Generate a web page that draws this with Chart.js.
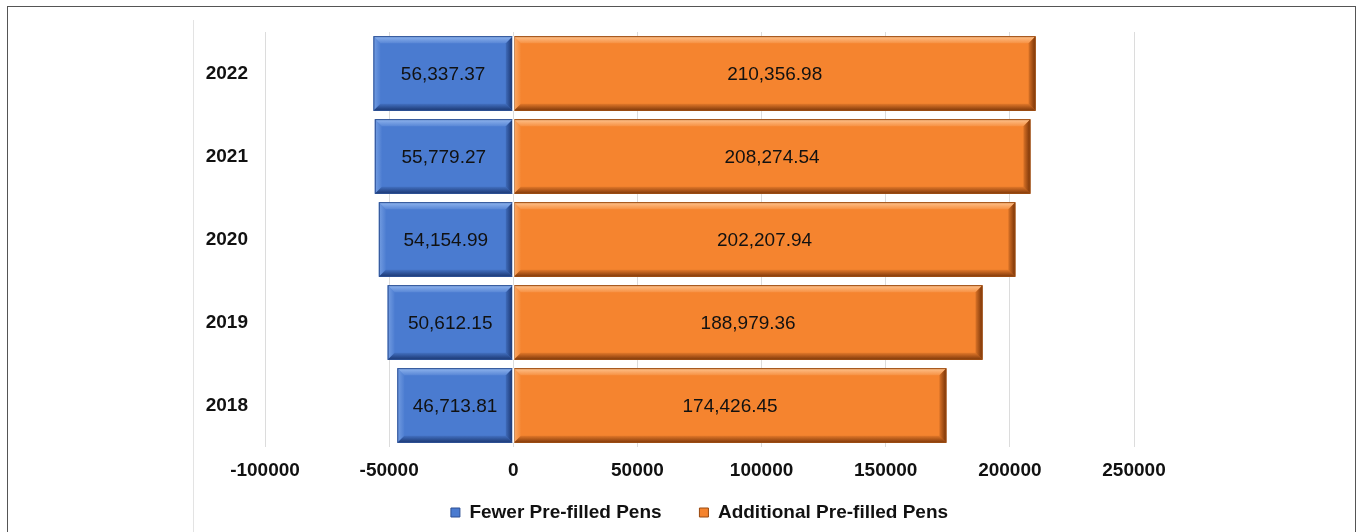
<!DOCTYPE html>
<html>
<head>
<meta charset="utf-8">
<script src="https://cdn.jsdelivr.net/npm/chart.js@4.4.0/dist/chart.umd.min.js"></script>
<style>
  html, body { margin: 0; padding: 0; background: #fff; }
  #wrap { position: relative; width: 1357px; height: 532px; overflow: hidden; }
  #frame { position: absolute; left: 7px; top: 6px; width: 1347px; height: 600px; border: 1px solid #555; }
  #inner { position: absolute; left: 193px; top: 20px; width: 0; height: 600px; border-left: 1px solid #e3e3e3; }
  canvas { position: absolute; left: 0; top: 0; }
</style>
</head>
<body>
<div id="wrap">
  <div id="frame"></div>
  <div id="inner"></div>
  <canvas id="chart" width="1357" height="532"></canvas>
</div>
<script>
var years = ['2022', '2021', '2020', '2019', '2018'];
var fewerPens = [-56337.37, -55779.27, -54154.99, -50612.15, -46713.81];
var additionalPens = [210356.98, 208274.54, 202207.94, 188979.36, 174426.45];
var xTicks = [-100000, -50000, 0, 50000, 100000, 150000, 200000, 250000];

var fontFamily = '"Liberation Sans", Arial, sans-serif';

var shades = {
  blue: { light: 'rgba(150,185,240,', dark: 'rgba(20,45,100,', line: '#2c4f93' },
  orange: { light: 'rgba(255,200,150,', dark: 'rgba(110,45,5,', line: '#9a4a10' }
};

const fmt = (v) => Math.abs(v).toLocaleString('en-US', { minimumFractionDigits: 2, maximumFractionDigits: 2 });

// bevelled bars like the office chart style
const bevel = {
  id: 'bevel',
  afterDatasetsDraw(chart) {
    const ctx = chart.ctx;
    chart.data.datasets.forEach((ds, di) => {
      const meta = chart.getDatasetMeta(di);
      const s = shades[ds.shade];
      meta.data.forEach((bar) => {
        const l = Math.min(bar.x, bar.base), r = Math.max(bar.x, bar.base);
        const t = bar.y - bar.height / 2, b = bar.y + bar.height / 2;
        const e = 7;
        ctx.save();
        const poly = (pts, g) => {
          ctx.beginPath();
          ctx.moveTo(pts[0][0], pts[0][1]);
          for (let i = 1; i < pts.length; i++) ctx.lineTo(pts[i][0], pts[i][1]);
          ctx.closePath();
          ctx.fillStyle = g;
          ctx.fill();
        };
        const grad = (x1, y1, x2, y2, base, a1, a2) => {
          const g = ctx.createLinearGradient(x1, y1, x2, y2);
          g.addColorStop(0, base + a1 + ')');
          g.addColorStop(1, base + a2 + ')');
          return g;
        };
        poly([[l, t], [r, t], [r - e, t + e], [l + e, t + e]], grad(0, t, 0, t + e, s.light, 0.95, 0.2));
        poly([[l, t], [l + e, t + e], [l + e, b - e], [l, b]], grad(l, 0, l + e, 0, s.light, 0.55, 0.05));
        poly([[l, b], [l + e, b - e], [r - e, b - e], [r, b]], grad(0, b, 0, b - e, s.dark, 0.9, 0.15));
        poly([[r, t], [r, b], [r - e, b - e], [r - e, t + e]], grad(r, 0, r - e, 0, s.dark, 0.95, 0.2));
        ctx.strokeStyle = s.line;
        ctx.lineWidth = 1;
        ctx.strokeRect(l + 0.5, t + 0.5, r - l - 1, b - t - 1);
        ctx.restore();
      });
    });
    // thin white gap at zero
    const x0 = chart.scales.x.getPixelForValue(0);
    ctx.save();
    ctx.fillStyle = '#ffffff';
    chart.getDatasetMeta(0).data.forEach((bar) => {
      ctx.fillRect(x0 - 1, bar.y - bar.height / 2, 2, bar.height);
    });
    ctx.restore();
  }
};

const valueLabels = {
  id: 'valueLabels',
  afterDatasetsDraw(chart) {
    const ctx = chart.ctx;
    ctx.save();
    ctx.font = '19px ' + fontFamily;
    ctx.fillStyle = '#111';
    ctx.textAlign = 'center';
    ctx.textBaseline = 'middle';
    chart.data.datasets.forEach((ds, di) => {
      chart.getDatasetMeta(di).data.forEach((bar, i) => {
        ctx.fillText(fmt(ds.data[i]), (bar.x + bar.base) / 2, bar.y + 1);
      });
    });
    ctx.restore();
  }
};

new Chart(document.getElementById('chart'), {
  type: 'bar',
  data: {
    labels: years,
    datasets: [{
      label: 'Fewer Pre-filled Pens',
      data: fewerPens,
      backgroundColor: '#4a7bd0',
      shade: 'blue'
    }, {
      label: 'Additional Pre-filled Pens',
      data: additionalPens,
      backgroundColor: '#f5842f',
      shade: 'orange'
    }]
  },
  options: {
    indexAxis: 'y',
    responsive: false,
    animation: false,
    barPercentage: 0.9,
    categoryPercentage: 1.0,
    layout: { padding: { left: 193, right: 223, top: 32, bottom: 0 } },
    scales: {
      x: {
        stacked: true,
        min: -100000,
        max: 250000,
        afterBuildTicks: (scale) => { scale.ticks = xTicks.map(v => ({ value: v })); },
        afterFit: (scale) => { scale.height = 34; },
        grid: { color: '#dcdcdc', drawTicks: false },
        border: { display: false },
        ticks: {
          color: '#111',
          padding: 12,
          callback: (v) => String(v),
          font: { family: fontFamily, size: 19, weight: 'bold' }
        }
      },
      y: {
        stacked: true,
        afterFit: (scale) => { scale.width = 72; },
        grid: { display: false, drawTicks: false },
        border: { display: false },
        ticks: { color: '#111', padding: 17, font: { family: fontFamily, size: 19, weight: 'bold' } }
      }
    },
    plugins: {
      legend: {
        position: 'bottom',
        fullSize: false,
        labels: {
          color: '#111',
          boxWidth: 9,
          boxHeight: 9,
          padding: 22,
          font: { family: fontFamily, size: 19, weight: 'bold' },
          generateLabels: (chart) => {
            const items = Chart.defaults.plugins.legend.labels.generateLabels(chart);
            // wider gap after the first entry, as in the original
            items[0].text = items[0].text + '\u00a0\u00a0\u00a0';
            items.forEach((it, i) => { it.strokeStyle = shades[chart.data.datasets[i].shade].line; it.lineWidth = 1; });
            return items;
          }
        }
      },
      tooltip: { enabled: false }
    }
  },
  plugins: [bevel, valueLabels]
});
</script>
</body>
</html>
